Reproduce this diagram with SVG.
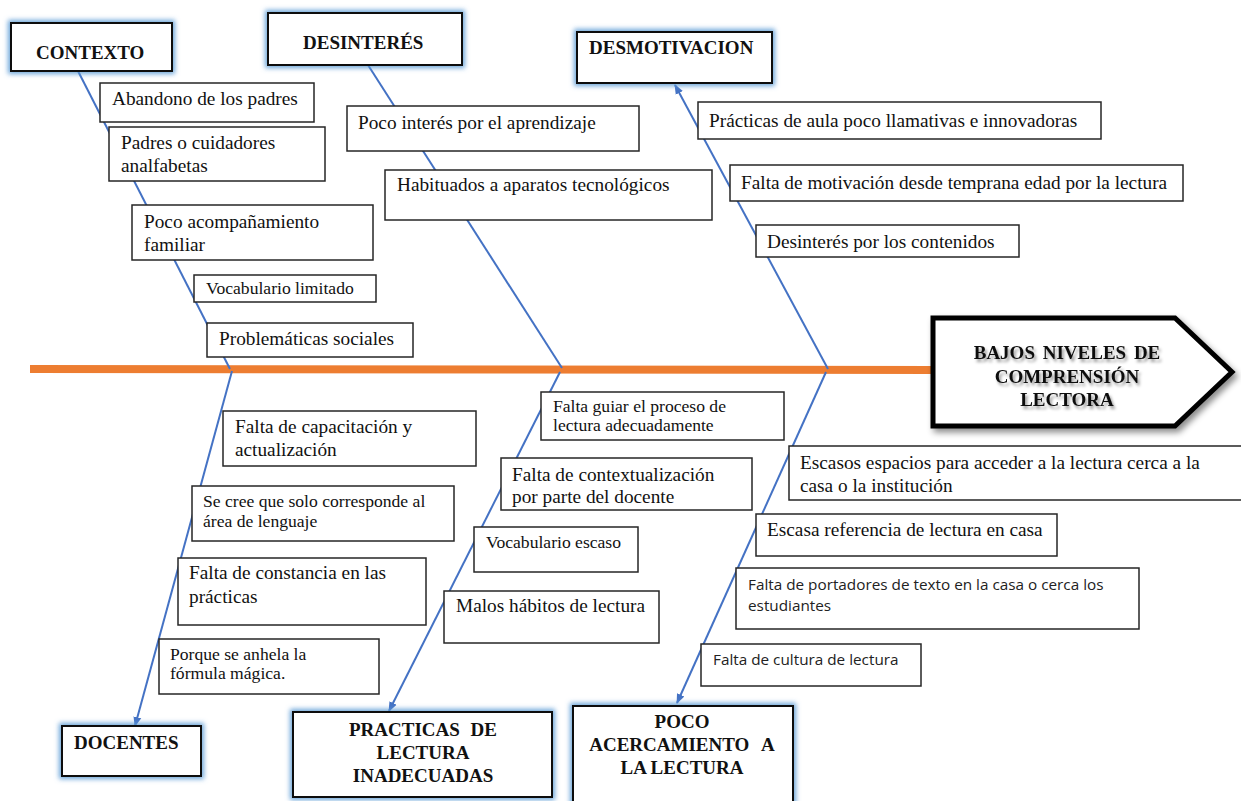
<svg xmlns="http://www.w3.org/2000/svg" width="1241" height="801" viewBox="0 0 1241 801">
<style>
.box{fill:#fff;stroke:#262626;stroke-width:1.5}
.cat{fill:#fff;stroke:#111;stroke-width:2}
.lg{font-family:"Liberation Serif","Times New Roman",serif;font-size:19.3px;fill:#111}
.sm{font-family:"Liberation Serif","Times New Roman",serif;font-size:17.6px;fill:#111}
.sn{font-family:"Open Sans","Liberation Sans",sans-serif;font-size:15.3px;fill:#222}
.ct{font-family:"Liberation Serif","Times New Roman",serif;font-size:19px;font-weight:bold;fill:#111}
.bone{stroke:#4472C4;stroke-width:2;fill:none}
</style>
<defs>
<filter id="glow" x="-20%" y="-40%" width="140%" height="180%">
<feMorphology in="SourceAlpha" operator="dilate" radius="1.5" result="d"/>
<feGaussianBlur in="d" stdDeviation="2.5" result="b"/>
<feFlood flood-color="#5B9BD5" flood-opacity="0.9"/>
<feComposite in2="b" operator="in" result="g"/>
<feMerge><feMergeNode in="g"/><feMergeNode in="SourceGraphic"/></feMerge>
</filter>
<filter id="shadow" x="-10%" y="-20%" width="130%" height="150%">
<feDropShadow dx="3" dy="4" stdDeviation="3" flood-color="#000" flood-opacity="0.45"/>
</filter>
<filter id="tshadow" x="-10%" y="-30%" width="130%" height="170%">
<feDropShadow dx="2" dy="3" stdDeviation="1.5" flood-color="#000" flood-opacity="0.4"/>
</filter>
<marker id="arr" viewBox="0 0 10 10" refX="9" refY="5" markerWidth="10" markerHeight="10" markerUnits="userSpaceOnUse" orient="auto">
<path d="M0,1 L10,5 L0,9 z" fill="#4472C4"/>
</marker>
</defs>
<rect width="1241" height="801" fill="#fff"/>

<g id="connectors">
<line x1="30" y1="369" x2="935" y2="370" stroke="#ED7D31" stroke-width="8"/>
<line class="bone" x1="78" y1="71" x2="230" y2="369"/>
<line class="bone" x1="232" y1="371" x2="135" y2="726" marker-end="url(#arr)"/>
<line class="bone" x1="368" y1="65" x2="562" y2="368"/>
<line class="bone" x1="560" y1="372" x2="389" y2="711" marker-end="url(#arr)"/>
<line class="bone" x1="828" y1="369" x2="675" y2="85" marker-end="url(#arr)"/>
<line class="bone" x1="826" y1="372" x2="677" y2="703" marker-end="url(#arr)"/>
</g>

<g id="effect">
<path d="M933,318 L1175,318 L1232,372 L1175,426 L933,426 Z" fill="#fff" stroke="#000" stroke-width="5" stroke-linejoin="miter" filter="url(#shadow)"/>
<g class="ct" text-anchor="middle" filter="url(#tshadow)" word-spacing="3">
<text x="1067" y="359">BAJOS NIVELES DE</text>
<text x="1067" y="383">COMPRENSIÓN</text>
<text x="1067" y="406">LECTORA</text>
</g>
</g>

<g id="contexto">
<rect class="cat" x="11" y="23" width="161" height="48" filter="url(#glow)"/>
<text class="ct" x="36" y="59">CONTEXTO</text>
</g>
<g id="desinteres">
<rect class="cat" x="268" y="13" width="194" height="52" filter="url(#glow)"/>
<text class="ct" x="303" y="49">DESINTERÉS</text>
</g>
<g id="desmotivacion">
<rect class="cat" x="577" y="32" width="195" height="51" filter="url(#glow)"/>
<text class="ct" x="589" y="54">DESMOTIVACION</text>
</g>
<g id="docentes">
<rect class="cat" x="62" y="726" width="139" height="50" filter="url(#glow)"/>
<text class="ct" x="74" y="749">DOCENTES</text>
</g>
<g id="practicas">
<rect class="cat" x="293" y="712" width="259" height="85" filter="url(#glow)"/>
<g class="ct" text-anchor="middle">
<text x="423" y="736" word-spacing="6">PRACTICAS DE</text>
<text x="423" y="759">LECTURA</text>
<text x="423" y="782">INADECUADAS</text>
</g>
</g>
<g id="poco">
<rect class="cat" x="573" y="706" width="220" height="100" filter="url(#glow)"/>
<g class="ct" text-anchor="middle">
<text x="682" y="728">POCO</text>
<text x="682" y="751" word-spacing="8">ACERCAMIENTO A</text>
<text x="682" y="774">LA LECTURA</text>
</g>
</g>

<g id="c1"><rect class="box" x="100" y="83" width="214" height="39"/><text class="lg" x="112" y="105">Abandono de los padres</text></g>
<g id="c2"><rect class="box" x="109" y="127" width="216" height="54"/><text class="lg" x="121" y="149">Padres o cuidadores</text><text class="lg" x="121" y="172">analfabetas</text></g>
<g id="c3"><rect class="box" x="132" y="205" width="241" height="55"/><text class="lg" x="144" y="228">Poco acompañamiento</text><text class="lg" x="144" y="251">familiar</text></g>
<g id="c4"><rect class="box" x="194" y="275" width="182" height="27"/><text class="sm" x="206" y="294">Vocabulario limitado</text></g>
<g id="c5"><rect class="box" x="207" y="323" width="206" height="34"/><text class="lg" x="219" y="345">Problemáticas sociales</text></g>

<g id="d1"><rect class="box" x="347" y="106" width="292" height="45"/><text class="lg" x="358" y="129">Poco interés por el aprendizaje</text></g>
<g id="d2"><rect class="box" x="385" y="170" width="327" height="50"/><text class="lg" x="397" y="191">Habituados a aparatos tecnológicos</text></g>

<g id="m1"><rect class="box" x="698" y="102" width="403" height="37"/><text class="lg" x="709" y="127">Prácticas de aula poco llamativas e innovadoras</text></g>
<g id="m2"><rect class="box" x="730" y="165" width="453" height="36"/><text class="lg" x="741" y="189">Falta de motivación desde temprana edad por la lectura</text></g>
<g id="m3"><rect class="box" x="756" y="225" width="263" height="32"/><text class="lg" x="767" y="248">Desinterés por los contenidos</text></g>

<g id="t1"><rect class="box" x="223" y="411" width="253" height="55"/><text class="lg" x="235" y="433">Falta de capacitación y</text><text class="lg" x="235" y="456">actualización</text></g>
<g id="t2"><rect class="box" x="192" y="486" width="262" height="55"/><text class="sm" x="203" y="507">Se cree que solo corresponde al</text><text class="sm" x="203" y="527">área de lenguaje</text></g>
<g id="t3"><rect class="box" x="178" y="558" width="248" height="67"/><text class="lg" x="189" y="579">Falta de constancia en las</text><text class="lg" x="189" y="603">prácticas</text></g>
<g id="t4"><rect class="box" x="159" y="639" width="220" height="55"/><text class="sm" x="170" y="660">Porque se anhela la</text><text class="sm" x="170" y="679">fórmula mágica.</text></g>

<g id="p1"><rect class="box" x="541" y="392" width="243" height="48"/><text class="sm" x="553" y="412">Falta guiar el proceso de</text><text class="sm" x="553" y="431">lectura adecuadamente</text></g>
<g id="p2"><rect class="box" x="501" y="458" width="251" height="52"/><text class="lg" x="512" y="481">Falta de contextualización</text><text class="lg" x="512" y="503">por parte del docente</text></g>
<g id="p3"><rect class="box" x="474" y="527" width="164" height="45"/><text class="sm" x="486" y="548">Vocabulario escaso</text></g>
<g id="p4"><rect class="box" x="444" y="591" width="215" height="52"/><text class="lg" x="456" y="612">Malos hábitos de lectura</text></g>

<g id="a1"><rect class="box" x="789" y="446" width="460" height="54"/><text class="lg" x="800" y="469">Escasos espacios para acceder a la lectura cerca a la</text><text class="lg" x="800" y="492">casa o la institución</text></g>
<g id="a2"><rect class="box" x="756" y="514" width="301" height="42"/><text class="lg" x="767" y="536">Escasa referencia de lectura en casa</text></g>
<g id="a3"><rect class="box" x="736" y="568" width="403" height="61"/><text class="sn" x="748" y="590">Falta de portadores de texto en la casa o cerca los</text><text class="sn" x="748" y="611">estudiantes</text></g>
<g id="a4"><rect class="box" x="701" y="644" width="220" height="42"/><text class="sn" x="713" y="665">Falta de cultura de lectura</text></g>
</svg>
